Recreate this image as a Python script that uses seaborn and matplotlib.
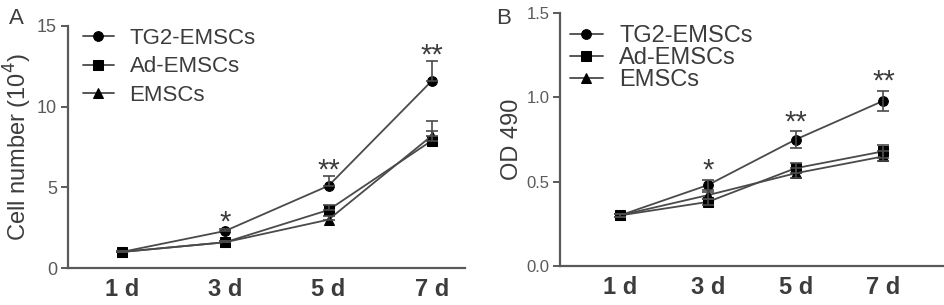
import numpy as np
import pandas as pd
import seaborn as sns
import matplotlib.pyplot as plt

days = ['1 d', '3 d', '5 d', '7 d']
groups = ['TG2-EMSCs', 'Ad-EMSCs', 'EMSCs']
markers = ['o', 's', '^']

# Panel A: cell number (10^4), mean and upper error
cell_tg2 = [1.0, 2.3, 5.1, 11.6]
cell_ad = [1.0, 1.6, 3.6, 7.9]
cell_ems = [1.0, 1.6, 3.0, 8.2]
cell_err_tg2 = [0.05, 0.15, 0.6, 1.2]
cell_err_ad = [0.05, 0.1, 0.3, 0.6]
cell_err_ems = [0.05, 0.1, 0.2, 0.9]
cell_stars = ['', '*', '**', '**']

# Panel B: OD 490, mean and error
od_tg2 = [0.30, 0.48, 0.75, 0.98]
od_ad = [0.30, 0.38, 0.58, 0.68]
od_ems = [0.30, 0.42, 0.55, 0.65]
od_err_tg2 = [0.01, 0.03, 0.05, 0.06]
od_err_ad = [0.01, 0.02, 0.03, 0.04]
od_err_ems = [0.01, 0.02, 0.03, 0.03]
od_stars = ['', '*', '**', '**']


def make_df(vals, errs):
    rows = []
    for g, v, e in zip(groups, vals, errs):
        for i, d in enumerate(days):
            rows.append({'day': i, 'group': g, 'value': v[i], 'err': e[i]})
    return pd.DataFrame(rows)


df_a = make_df([cell_tg2, cell_ad, cell_ems], [cell_err_tg2, cell_err_ad, cell_err_ems])
df_b = make_df([od_tg2, od_ad, od_ems], [od_err_tg2, od_err_ad, od_err_ems])

sns.set_style('ticks')
plt.rcParams['font.family'] = ['Liberation Sans', 'DejaVu Sans']
gray = '#4a4a4a'
txt = '#3c3c3c'
tick_gray = '#5a5a5a'

fig = plt.figure(figsize=(9.45, 3.05), dpi=100)
ax_a = fig.add_axes([0.072, 0.121, 0.420, 0.794])
ax_b = fig.add_axes([0.593, 0.128, 0.405, 0.829])


def draw(ax, df, upper_only, ylim, yticks, yfmt, ytick_fs, stars, star_off,
         ylabel, ylabel_fs, leg_anchor, leg_fs, leg_space):
    sns.lineplot(data=df, x='day', y='value', hue='group', style='group',
                 markers=markers, dashes=False, palette=['black'] * 3,
                 hue_order=groups, style_order=groups, markersize=7,
                 linewidth=1.3, ax=ax, legend=True)
    for line in ax.get_lines():
        line.set_color(gray)
        line.set_markerfacecolor('black')
        line.set_markeredgecolor('black')
    for g in groups:
        sub = df[df['group'] == g]
        if upper_only:
            yerr = [np.zeros(len(sub)), sub['err'].values]
        else:
            yerr = sub['err'].values
        ax.errorbar(sub['day'], sub['value'], yerr=yerr, fmt='none',
                    ecolor=gray, elinewidth=1.2, capsize=4, capthick=1.2)
    top = df[df['group'] == groups[0]]
    for i, s in enumerate(stars):
        if s:
            ax.text(i, top['value'].values[i] + top['err'].values[i] + star_off, s,
                    ha='center', va='bottom', fontsize=21, color=txt)
    ax.set_ylim(*ylim)
    ax.set_yticks(yticks)
    ax.set_yticklabels([yfmt.format(t) for t in yticks], fontsize=ytick_fs, color=tick_gray)
    ax.set_xticks(range(len(days)))
    ax.set_xticklabels(days, fontsize=17, color=txt, fontweight='bold')
    ax.tick_params(axis='x', length=0, pad=7)
    ax.tick_params(axis='y', length=5, width=1.4, color=tick_gray, pad=3)
    ax.set_xlabel('')
    ax.set_ylabel(ylabel, fontsize=ylabel_fs, color=txt, labelpad=2)
    for sp in ['left', 'bottom']:
        ax.spines[sp].set_color(tick_gray)
        ax.spines[sp].set_linewidth(1.6)
    sns.despine(ax=ax)
    leg = ax.legend(loc='upper left', bbox_to_anchor=leg_anchor, frameon=False,
                    fontsize=leg_fs, handlelength=1.4, labelspacing=leg_space,
                    handletextpad=0.7, borderaxespad=0)
    for t in leg.get_texts():
        t.set_color(txt)


draw(ax_a, df_a, True, (0, 15), [0, 5, 10, 15], '{:.0f}', 13, cell_stars, -0.5,
     'Cell number (10$^4$)', 17, (0.015, 1.03), 16, 0.35)
ax_a.set_xlim(-0.52, 3.32)

draw(ax_b, df_b, False, (0, 1.5), [0.0, 0.5, 1.0, 1.5], '{:.1f}', 12, od_stars, -0.03,
     'OD 490', 17, (0.0, 0.99), 17, 0.0)
ax_b.set_xlim(-0.68, 3.68)

fig.text(0.010, 0.92, 'A', fontsize=16, color=txt)
fig.text(0.525, 0.92, 'B', fontsize=16, color=txt)

fig.savefig('out.png', dpi=100)
